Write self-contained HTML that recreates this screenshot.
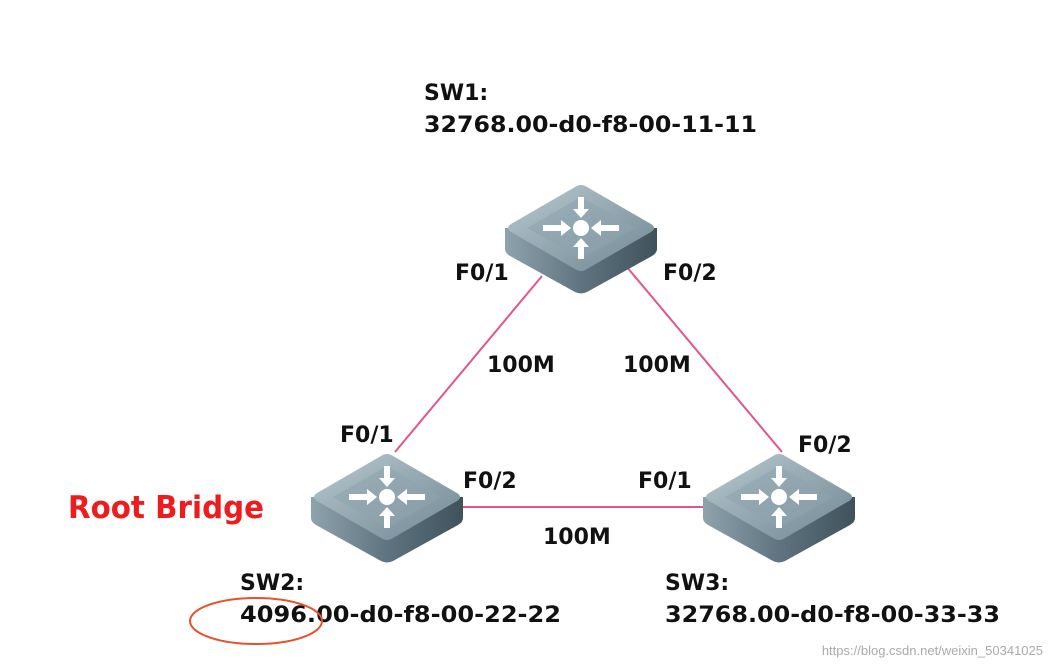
<!DOCTYPE html>
<html><head><meta charset="utf-8"><style>body{margin:0;background:#fff}svg{display:block}</style></head><body>
<svg width="1053" height="668" viewBox="0 0 1053 668" xmlns="http://www.w3.org/2000/svg" font-family="DejaVu Sans, Liberation Sans, sans-serif" font-weight="bold">
<defs>
<linearGradient id="side" x1="0" y1="0" x2="1" y2="0"><stop offset="0" stop-color="#8fa3ad"/><stop offset="0.5" stop-color="#5f7480"/><stop offset="1" stop-color="#3f525c"/></linearGradient>
<linearGradient id="top" x1="0" y1="0" x2="1" y2="1"><stop offset="0" stop-color="#b9c9d0"/><stop offset="1" stop-color="#6f8792"/></linearGradient>
<g id="sw">
<path d="M0,45 L0,66 Q0,70 5,73 L70,109 Q76,112 82,109 L147,73 Q152,70 152,66 L152,45 Z" fill="url(#side)"/>
<path d="M6,41 L70,4 Q76,0 82,4 L146,41 Q152,45 146,49 L82,86 Q76,90 70,86 L6,49 Q0,45 6,41 Z" fill="url(#top)"/>
<path d="M22,45 L76,14 L130,45 L76,76 Z" fill="#8ea3ad" opacity="0.6"/>
<circle cx="76" cy="45" r="8" fill="#fff"/>
<g fill="#fff">
<path d="M38,42 h18 v-5 l10,8 l-10,8 v-5 h-18z"/>
<path d="M114,42 h-18 v-5 l-10,8 l10,8 v-5 h18z"/>
<path d="M73,14 v12 h-5 l8,9 l8,-9 h-5 v-12z"/>
<path d="M73,76 v-12 h-5 l8,-9 l8,9 h-5 v12z"/>
</g>
</g>
</defs>
<g stroke="#e05590" stroke-width="2">
<line x1="542" y1="276" x2="395" y2="452"/>
<line x1="626" y1="266" x2="782" y2="452"/>
<line x1="460" y1="507" x2="706" y2="507"/>
</g>
<use href="#sw" x="505" y="183"/>
<use href="#sw" x="311" y="452"/>
<use href="#sw" x="703" y="452"/>
<g font-size="22" fill="#111">
<text x="424" y="100">SW1:</text>
<text x="424" y="132" textLength="333" lengthAdjust="spacingAndGlyphs">32768.00-d0-f8-00-11-11</text>
<text x="455" y="280">F0/1</text>
<text x="663" y="280">F0/2</text>
<text x="487" y="372">100M</text>
<text x="623" y="372">100M</text>
<text x="340" y="442">F0/1</text>
<text x="798" y="452">F0/2</text>
<text x="463" y="488">F0/2</text>
<text x="638" y="488">F0/1</text>
<text x="543" y="544">100M</text>
<text x="240" y="590">SW2:</text>
<text x="240" y="622" textLength="321" lengthAdjust="spacingAndGlyphs">4096.00-d0-f8-00-22-22</text>
<text x="665" y="590">SW3:</text>
<text x="665" y="622" textLength="335" lengthAdjust="spacingAndGlyphs">32768.00-d0-f8-00-33-33</text>
</g>
<text x="68" y="518" font-size="31" fill="#ee1c1c" textLength="196" lengthAdjust="spacingAndGlyphs">Root Bridge</text>
<ellipse cx="256" cy="621" rx="66" ry="23" fill="none" stroke="#e8502a" stroke-width="2"/>
<text x="1043" y="655" font-size="13" font-weight="normal" fill="#aaa" text-anchor="end" font-family="Liberation Sans, sans-serif">https://blog.csdn.net/weixin_50341025</text>
</svg>
</body></html>
